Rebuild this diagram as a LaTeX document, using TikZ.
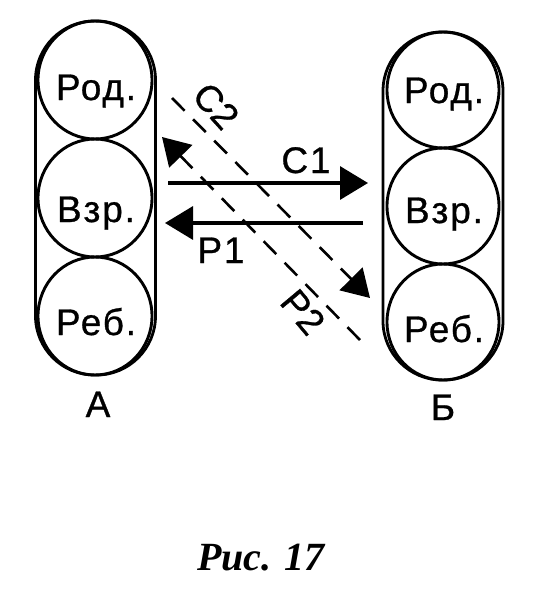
\documentclass[tikz,border=0pt]{standalone}
\usepackage{fontspec}
\setmainfont{Liberation Sans}
\newfontfamily\labfont[LetterSpace=5,FakeBold=0.8]{Liberation Sans}
\newfontfamily\rotfont[FakeBold=0.8]{Liberation Sans}
\newfontfamily\capfont{Liberation Serif}
\usetikzlibrary{arrows.meta,shapes.geometric}
\begin{document}
\begin{tikzpicture}[x=1pt,y=-1pt,
  capsule/.style={draw, line width=2.8pt, rectangle, rounded corners=59pt, inner sep=0pt, minimum width=120pt},
  ring/.style={draw, line width=2.9pt, ellipse, inner sep=0pt},
  lab/.style={font=\labfont\fontsize{37}{42}\selectfont, inner sep=0pt, anchor=base},
  rlab/.style={font=\rotfont\fontsize{37}{42}\selectfont, inner sep=0pt},
  solidarrow/.style={line width=3.3pt, -{Triangle[length=28pt,width=33pt]}},
  dasharrow/.style={line width=2.6pt, dash pattern=on 18pt off 12pt, -{Triangle[length=27pt,width=32pt]}}]
\useasboundingbox (0,0) rectangle (540,592);
% group A
\node[capsule, minimum height=354pt] (A) at (95.5,198) {};
\node[ring, minimum width=114pt, minimum height=118pt] (a1) at (95,80) {};
\node[ring, minimum width=114pt, minimum height=118pt] (a2) at (95,198) {};
\node[ring, minimum width=114pt, minimum height=118pt] (a3) at (95,316) {};
\node[lab] (a1t) at (96,100) {Род.};
\node[lab] (a2t) at (96,222) {Взр.};
\node[lab] (a3t) at (96,335) {Реб.};
\node[lab] (Al) at (98,417) {А};
% group B
\node[capsule, minimum height=348pt] (B) at (443,206) {};
\node[ring, minimum width=112pt, minimum height=116pt] (b1) at (443,90) {};
\node[ring, minimum width=112pt, minimum height=116pt] (b2) at (443,206) {};
\node[ring, minimum width=112pt, minimum height=116pt] (b3) at (443,322) {};
\node[lab] (b1t) at (444,103) {Род.};
\node[lab] (b2t) at (444,223) {Взр.};
\node[lab] (b3t) at (444,342) {Реб.};
\node[lab] (Bl) at (443,420) {Б};
% connector ends
\coordinate (c1s) at (168,183);
\coordinate (c1e) at (368,183);
\coordinate (p1s) at (363,223);
\coordinate (p1e) at (165,223);
\coordinate (p2s) at (172,98);
\coordinate (p2e) at (370,298);
\coordinate (c2s) at (360,340);
\coordinate (c2e) at (162,137);
\draw[solidarrow] (c1s) -- (c1e);
\draw[solidarrow] (p1s) -- (p1e);
\draw[dasharrow] (p2s) -- (p2e);
\draw[dasharrow] (c2s) -- (c2e);
\node[lab] (c1l) at (306,173) {С1};
\node[lab] (p1l) at (221,263) {Р1};
\node[rlab, rotate=-48] (c2l) at (216,106) {С2};
\node[rlab, rotate=-50] (p2l) at (303,312) {Р2};
% caption
\node[font=\capfont\bfseries\itshape\fontsize{40}{46}\selectfont, inner sep=0pt, anchor=base] (cap) at (261,570) {Рис. 17};
\end{tikzpicture}
\end{document}
